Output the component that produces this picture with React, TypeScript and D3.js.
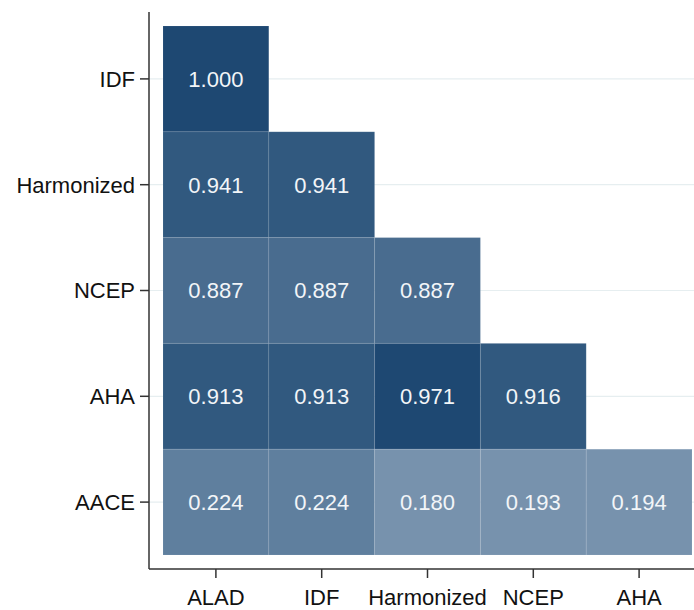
import { useEffect, useRef } from 'react';
import * as d3 from 'd3';

// Categories (columns = x, rows = y, top to bottom)
const columns = ['ALAD', 'IDF', 'Harmonized', 'NCEP', 'AHA'];
const rows = ['IDF', 'Harmonized', 'NCEP', 'AHA', 'AACE'];

// Lower-triangle values per row
const rowIDF = [1.0];
const rowHarmonized = [0.941, 0.941];
const rowNCEP = [0.887, 0.887, 0.887];
const rowAHA = [0.913, 0.913, 0.971, 0.916];
const rowAACE = [0.224, 0.224, 0.18, 0.193, 0.194];
const rowValues = [rowIDF, rowHarmonized, rowNCEP, rowAHA, rowAACE];

// Colour bins
const binBreaks = [0.2, 0.5, 0.9, 0.95];
const binColors = ['#7792ad', '#5f7f9e', '#496c8f', '#31597f', '#1e4872'];

interface Cell {
    row: string;
    col: string;
    value: number;
}

export default function App() {
    const svgRef = useRef<SVGSVGElement>(null);

    useEffect(() => {
        if (!svgRef.current) return;
        const width = 694;
        const height = 610;

        d3.select(svgRef.current).selectAll('*').remove();
        const svg = d3.select(svgRef.current)
            .attr('width', width)
            .attr('height', height);

        const font = '"Liberation Sans", Arial, sans-serif';
        const fontSize = '22px';

        const x = d3.scaleBand<string>().domain(columns).range([163, 692]).padding(0);
        const y = d3.scaleBand<string>().domain(rows).range([26, 555]).padding(0);
        const color = d3.scaleThreshold<number, string>().domain(binBreaks).range(binColors);

        const axisX = 149;
        const axisY = 569;

        // Gridlines at row centres
        svg.append('g')
            .selectAll('line')
            .data(rows)
            .enter()
            .append('line')
            .attr('x1', axisX)
            .attr('x2', width)
            .attr('y1', d => (y(d) as number) + y.bandwidth() / 2)
            .attr('y2', d => (y(d) as number) + y.bandwidth() / 2)
            .attr('stroke', '#e6eef0')
            .attr('stroke-width', 1.2);

        const cells: Cell[] = [];
        rowValues.forEach((vals, i) => {
            vals.forEach((v, j) => cells.push({ row: rows[i], col: columns[j], value: v }));
        });

        const g = svg.append('g');
        g.selectAll('rect')
            .data(cells)
            .enter()
            .append('rect')
            .attr('x', d => x(d.col) as number)
            .attr('y', d => y(d.row) as number)
            .attr('width', x.bandwidth())
            .attr('height', y.bandwidth())
            .attr('fill', d => color(d.value))
            .attr('stroke', 'rgba(255,255,255,0.09)')
            .attr('stroke-width', 1);

        g.selectAll('text')
            .data(cells)
            .enter()
            .append('text')
            .attr('x', d => (x(d.col) as number) + x.bandwidth() / 2)
            .attr('y', d => (y(d.row) as number) + y.bandwidth() / 2)
            .attr('dy', '0.36em')
            .attr('text-anchor', 'middle')
            .style('fill', '#f2f5f8')
            .style('font-family', font)
            .style('font-size', fontSize)
            .text(d => d.value.toFixed(3));

        // Axis lines
        svg.append('line')
            .attr('x1', axisX).attr('x2', axisX)
            .attr('y1', 12).attr('y2', axisY)
            .attr('stroke', '#333').attr('stroke-width', 1.5);
        svg.append('line')
            .attr('x1', axisX).attr('x2', width)
            .attr('y1', axisY).attr('y2', axisY)
            .attr('stroke', '#333').attr('stroke-width', 1.5);

        // Y ticks and labels
        const yt = svg.append('g');
        rows.forEach(r => {
            const cy = (y(r) as number) + y.bandwidth() / 2;
            yt.append('line')
                .attr('x1', axisX - 9).attr('x2', axisX)
                .attr('y1', cy).attr('y2', cy)
                .attr('stroke', '#333').attr('stroke-width', 1.5);
            yt.append('text')
                .attr('x', axisX - 14)
                .attr('y', cy)
                .attr('dy', '0.36em')
                .attr('text-anchor', 'end')
                .style('font-family', font)
                .style('font-size', fontSize)
                .style('fill', '#111')
                .text(r);
        });

        // X ticks and labels
        const xt = svg.append('g');
        columns.forEach(c => {
            const cx = (x(c) as number) + x.bandwidth() / 2;
            xt.append('line')
                .attr('x1', cx).attr('x2', cx)
                .attr('y1', axisY).attr('y2', axisY + 9)
                .attr('stroke', '#333').attr('stroke-width', 1.5);
            xt.append('text')
                .attr('x', cx)
                .attr('y', 605)
                .attr('text-anchor', 'middle')
                .style('font-family', font)
                .style('font-size', fontSize)
                .style('fill', '#111')
                .text(c);
        });
    }, []);

    return (
        <div style={{ position: 'absolute', left: 0, top: 0, width: 694, height: 610, background: '#fff' }}>
            <svg ref={svgRef} style={{ display: 'block' }} />
        </div>
    );
}
